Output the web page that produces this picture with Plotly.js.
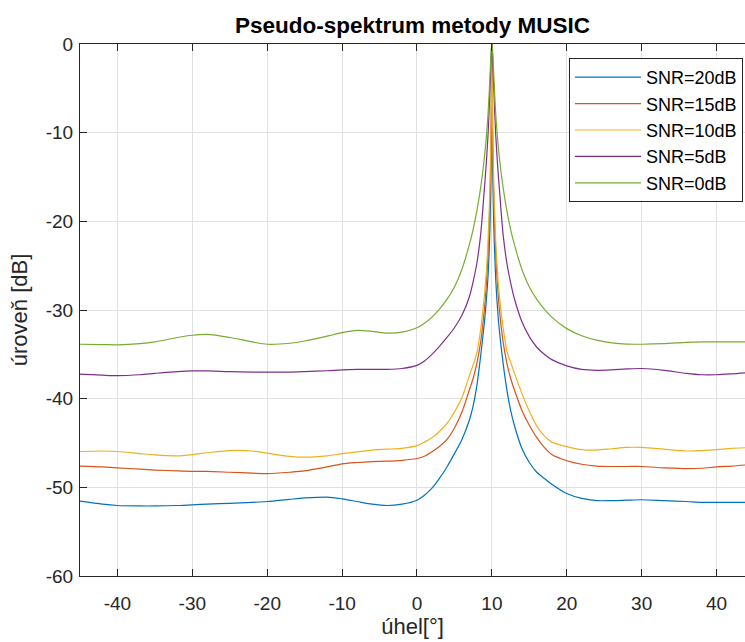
<!DOCTYPE html>
<html>
<head>
<meta charset="utf-8">
<script src="https://cdn.plot.ly/plotly-3.0.1.min.js"></script>
<style>html,body{margin:0;padding:0;background:#fff;}#chart{width:745px;height:642px;}</style>
</head>
<body>
<div id="chart"></div>
<script>
const angles = [-45,-42,-40,-37,-35,-32,-30,-28,-25,-22,-20,-17,-15,-12,-10,-8,-6,-4,-2,0,1,2,3,4,5,6,7,7.5,8,8.5,9,9.25,9.5,9.75,9.9,10,10.1,10.25,10.5,10.75,11,11.5,12,12.5,13,14,15,16,17,18,20,22,24,26,28,30,33,36,38,40,42,45];

const snr20 = [-51.56,-51.9,-52.05,-52.1,-52.1,-52.05,-51.97,-51.9,-51.8,-51.7,-51.6,-51.35,-51.2,-51.1,-51.3,-51.6,-51.9,-52.05,-51.9,-51.45,-50.9,-50.1,-49.0,-47.7,-46.2,-44.6,-42.4,-40.8,-38.5,-35.2,-31.4,-29.0,-26.0,-20.5,-13.2,0,-13.2,-20.5,-26.3,-29.8,-32.3,-36.0,-39.0,-41.3,-43.0,-45.6,-47.2,-48.3,-49.0,-49.65,-50.7,-51.25,-51.5,-51.5,-51.45,-51.4,-51.5,-51.6,-51.7,-51.7,-51.7,-51.7];

const snr15 = [-47.6,-47.7,-47.8,-47.95,-48.05,-48.15,-48.2,-48.2,-48.3,-48.4,-48.45,-48.3,-48.15,-47.7,-47.35,-47.2,-47.1,-47.05,-46.95,-46.75,-46.5,-46.0,-45.4,-44.6,-43.3,-41.5,-39.0,-37.7,-36.0,-33.6,-29.9,-27.2,-23.4,-17.3,-9.7,0,-9.7,-17.3,-23.4,-27.2,-29.9,-33.6,-36.0,-37.7,-39.0,-41.3,-43.0,-44.4,-45.5,-46.3,-47.0,-47.4,-47.6,-47.65,-47.65,-47.65,-47.8,-47.9,-47.85,-47.7,-47.6,-47.4];

const snr10 = [-45.96,-45.9,-45.96,-46.2,-46.35,-46.45,-46.3,-46.1,-45.85,-45.9,-46.15,-46.5,-46.6,-46.45,-46.2,-46.0,-45.8,-45.7,-45.6,-45.3,-44.9,-44.4,-43.7,-42.8,-41.5,-39.9,-37.4,-36.2,-34.8,-32.2,-28.4,-25.8,-22.0,-15.8,-8.4,0,-8.4,-15.8,-22.0,-25.8,-28.4,-32.0,-34.6,-35.9,-37.1,-39.4,-41.4,-43.1,-44.2,-44.9,-45.4,-45.75,-45.8,-45.65,-45.5,-45.5,-45.7,-45.9,-45.85,-45.75,-45.6,-45.5];

const snr5 = [-37.24,-37.35,-37.4,-37.3,-37.15,-36.95,-36.87,-36.87,-36.95,-37.0,-37.0,-37.0,-36.95,-36.85,-36.75,-36.7,-36.7,-36.7,-36.6,-36.25,-35.75,-35.0,-34.1,-33.1,-32.0,-30.6,-28.5,-26.8,-24.7,-21.5,-16.3,-13.5,-10.0,-5.0,-1.5,0,-1.5,-5.0,-10.0,-13.5,-16.3,-21.5,-24.7,-26.9,-28.7,-31.3,-33.0,-34.2,-35.0,-35.6,-36.3,-36.7,-36.8,-36.75,-36.65,-36.6,-36.8,-37.15,-37.3,-37.3,-37.2,-37.0];

const snr0 = [-33.86,-33.9,-33.93,-33.8,-33.6,-33.1,-32.85,-32.75,-33.1,-33.6,-33.86,-33.75,-33.5,-32.95,-32.55,-32.3,-32.4,-32.6,-32.5,-32.0,-31.5,-30.8,-29.9,-28.8,-27.4,-25.4,-22.6,-20.9,-18.8,-16.2,-12.8,-10.6,-7.7,-3.5,-0.8,0,-0.8,-3.5,-7.7,-10.6,-12.8,-16.2,-18.8,-20.9,-22.6,-25.4,-27.4,-28.8,-29.9,-30.8,-32.1,-32.9,-33.4,-33.7,-33.85,-33.86,-33.8,-33.65,-33.6,-33.6,-33.6,-33.6];

const seriesNames = ['SNR=20dB','SNR=15dB','SNR=10dB','SNR=5dB','SNR=0dB'];
const seriesValues = [snr20, snr15, snr10, snr5, snr0];
const seriesColors = ['#0072BD','#D95319','#EDB120','#7E2F8E','#77AC30'];

const xTicks = [-40,-30,-20,-10,0,10,20,30,40];
const xTickText = ['-40','-30','-20','-10','0','10','20','30','40'];
const yTicks = [-60,-50,-40,-30,-20,-10,0];
const yTickText = ['-60','-50','-40','-30','-20','-10','0'];

const traces = seriesNames.map((n, i) => ({
  x: angles, y: seriesValues[i], name: n, type: 'scatter', mode: 'lines',
  line: {color: seriesColors[i], width: 1.2, shape: 'spline', smoothing: 0.8}
}));

const font = 'Liberation Sans, Arial, Helvetica, sans-serif';
const axisCommon = {
  showline: true, linecolor: '#262626', linewidth: 1,
  ticks: 'inside', ticklen: 7, tickcolor: '#262626', tickwidth: 1,
  showgrid: true, gridcolor: '#e0e0e0', gridwidth: 1, zeroline: false,
  tickfont: {family: font, size: 19, color: '#262626'}
};

const layout = {
  width: 745, height: 642,
  margin: {l: 80, r: 0, t: 44, b: 66},
  paper_bgcolor: '#fff', plot_bgcolor: '#fff',
  showlegend: true,
  title: {text: '<b>Pseudo-spektrum metody MUSIC</b>', font: {family: font, size: 22.5, color: '#000'},
          x: 0.5, xref: 'paper', y: 1 - 25/642, yref: 'container', yanchor: 'middle'},
  xaxis: Object.assign({}, axisCommon, {
    range: [-45, 43.8], tickvals: xTicks, ticktext: xTickText, mirror: 'ticks',
    ticklabelstandoff: 10,
    title: {text: 'úhel[°]', font: {family: font, size: 22, color: '#262626'}, standoff: 4}
  }),
  yaxis: Object.assign({}, axisCommon, {
    range: [-60, 0], tickvals: yTicks, ticktext: yTickText, mirror: false,
    ticklabelstandoff: 2,
    title: {text: 'úroveň [dB]', font: {family: font, size: 22, color: '#262626'}, standoff: 12}
  }),
  legend: {
    x: 0.997, xanchor: 'right', y: 1 - 14/532, yanchor: 'top',
    bgcolor: '#fff', bordercolor: '#262626', borderwidth: 1,
    font: {family: font, size: 18, color: '#000'},
    itemwidth: 66, tracegroupgap: 0
  }
};

Plotly.newPlot('chart', traces, layout, {displayModeBar: false, staticPlot: true});
</script>
</body>
</html>
